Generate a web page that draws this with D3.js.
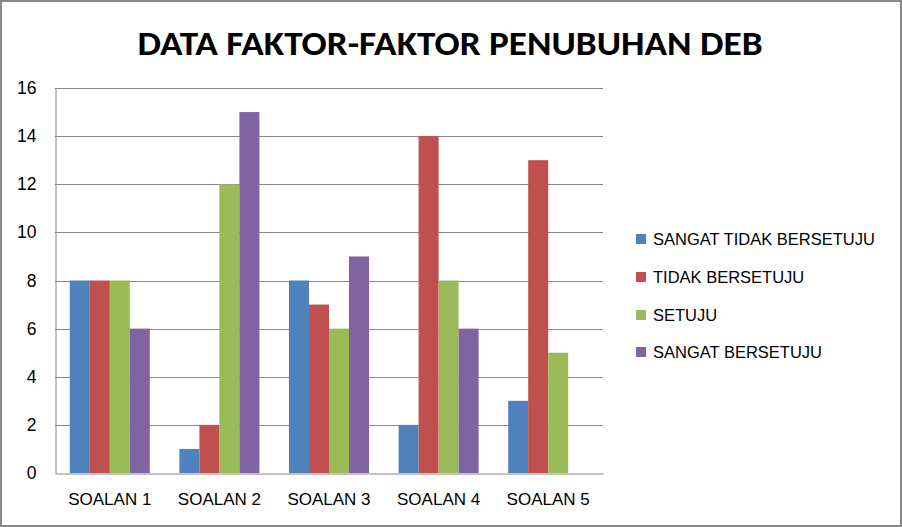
<!DOCTYPE html>
<html><head><meta charset="utf-8">
<script src="https://cdn.jsdelivr.net/npm/d3@7"></script>
<style>body{margin:0;background:#fff}svg{display:block}</style>
</head><body>
<script>
const categories = ["SOALAN 1","SOALAN 2","SOALAN 3","SOALAN 4","SOALAN 5"];
const seriesNames = ["SANGAT TIDAK BERSETUJU","TIDAK BERSETUJU","SETUJU","SANGAT BERSETUJU"];
const sangatTidak = [8,1,8,2,3];
const tidak = [8,2,7,14,13];
const setuju = [8,12,6,8,5];
const sangat = [6,15,9,6,0];
const colors = ["#4F81BD","#C0504D","#9BBB59","#8064A2"];
const yTicks = [0,2,4,6,8,10,12,14,16];
const title = "DATA FAKTOR-FAKTOR PENUBUHAN DEB";

const W=902,H=527;
const svg=d3.select("body").append("svg").attr("width",W).attr("height",H);
svg.append("rect").attr("x",1).attr("y",1).attr("width",W-2).attr("height",H-2)
  .attr("fill","#fff").attr("stroke","#898989").attr("stroke-width",2);

const tfont="Carlito, Calibri, Lato, 'Open Sans', sans-serif";
const font="'Liberation Sans', Arial, sans-serif";
const m={l:55,r:603,t:88,b:473};
const x=d3.scaleBand().domain(categories).range([m.l,m.r]).paddingInner(0.27).paddingOuter(0.135);
const series=[sangatTidak,tidak,setuju,sangat];
const xs=d3.scaleBand().domain(d3.range(4)).range([0,x.bandwidth()]);
const y=d3.scaleLinear().domain([0,16]).range([m.b,m.t]);

svg.append("text").attr("x",450).attr("y",55).attr("text-anchor","middle")
  .attr("font-family",tfont).attr("font-weight","bold").attr("font-size",35)
  .attr("textLength",625).attr("lengthAdjust","spacingAndGlyphs").text(title);

// grid
svg.append("g").selectAll("line").data(yTicks.filter(d=>d>0)).join("line")
  .attr("x1",m.l).attr("x2",m.r).attr("y1",d=>Math.round(y(d))+0.5).attr("y2",d=>Math.round(y(d))+0.5)
  .attr("stroke","#868686").attr("stroke-width",1);

// y axis
const ya=svg.append("g").attr("transform",`translate(${m.l+0.5},0)`)
  .call(d3.axisLeft(y).tickValues(yTicks).tickSize(0).tickPadding(19));
ya.select(".domain").attr("stroke","#868686");
ya.selectAll("text").attr("font-family",font).attr("font-size",17.5).attr("fill","#000");

// bars
const g=svg.append("g");
categories.forEach((c,i)=>{
  series.forEach((s,j)=>{
    g.append("rect").attr("x",x(c)+xs(j)).attr("width",xs.bandwidth())
      .attr("y",y(s[i])).attr("height",y(0)-y(s[i])).attr("fill",colors[j]);
  });
});

// x axis
const xa=svg.append("g").attr("transform",`translate(0,${m.b+0.5})`)
  .call(d3.axisBottom(x).tickSize(0).tickPadding(19));
xa.select(".domain").attr("stroke","#868686");
xa.selectAll("text").attr("font-family",font).attr("font-size",17).attr("fill","#000");

// legend
const ly=[239,277,315,352];
const lg=svg.append("g");
seriesNames.forEach((n,j)=>{
  lg.append("rect").attr("x",636).attr("y",ly[j]-5).attr("width",10).attr("height",10).attr("fill",colors[j]);
  lg.append("text").attr("x",653).attr("y",ly[j]).attr("dy","0.36em")
    .attr("font-family",font).attr("font-size",16.5).attr("fill","#000").text(n);
});
</script>
</body></html>
